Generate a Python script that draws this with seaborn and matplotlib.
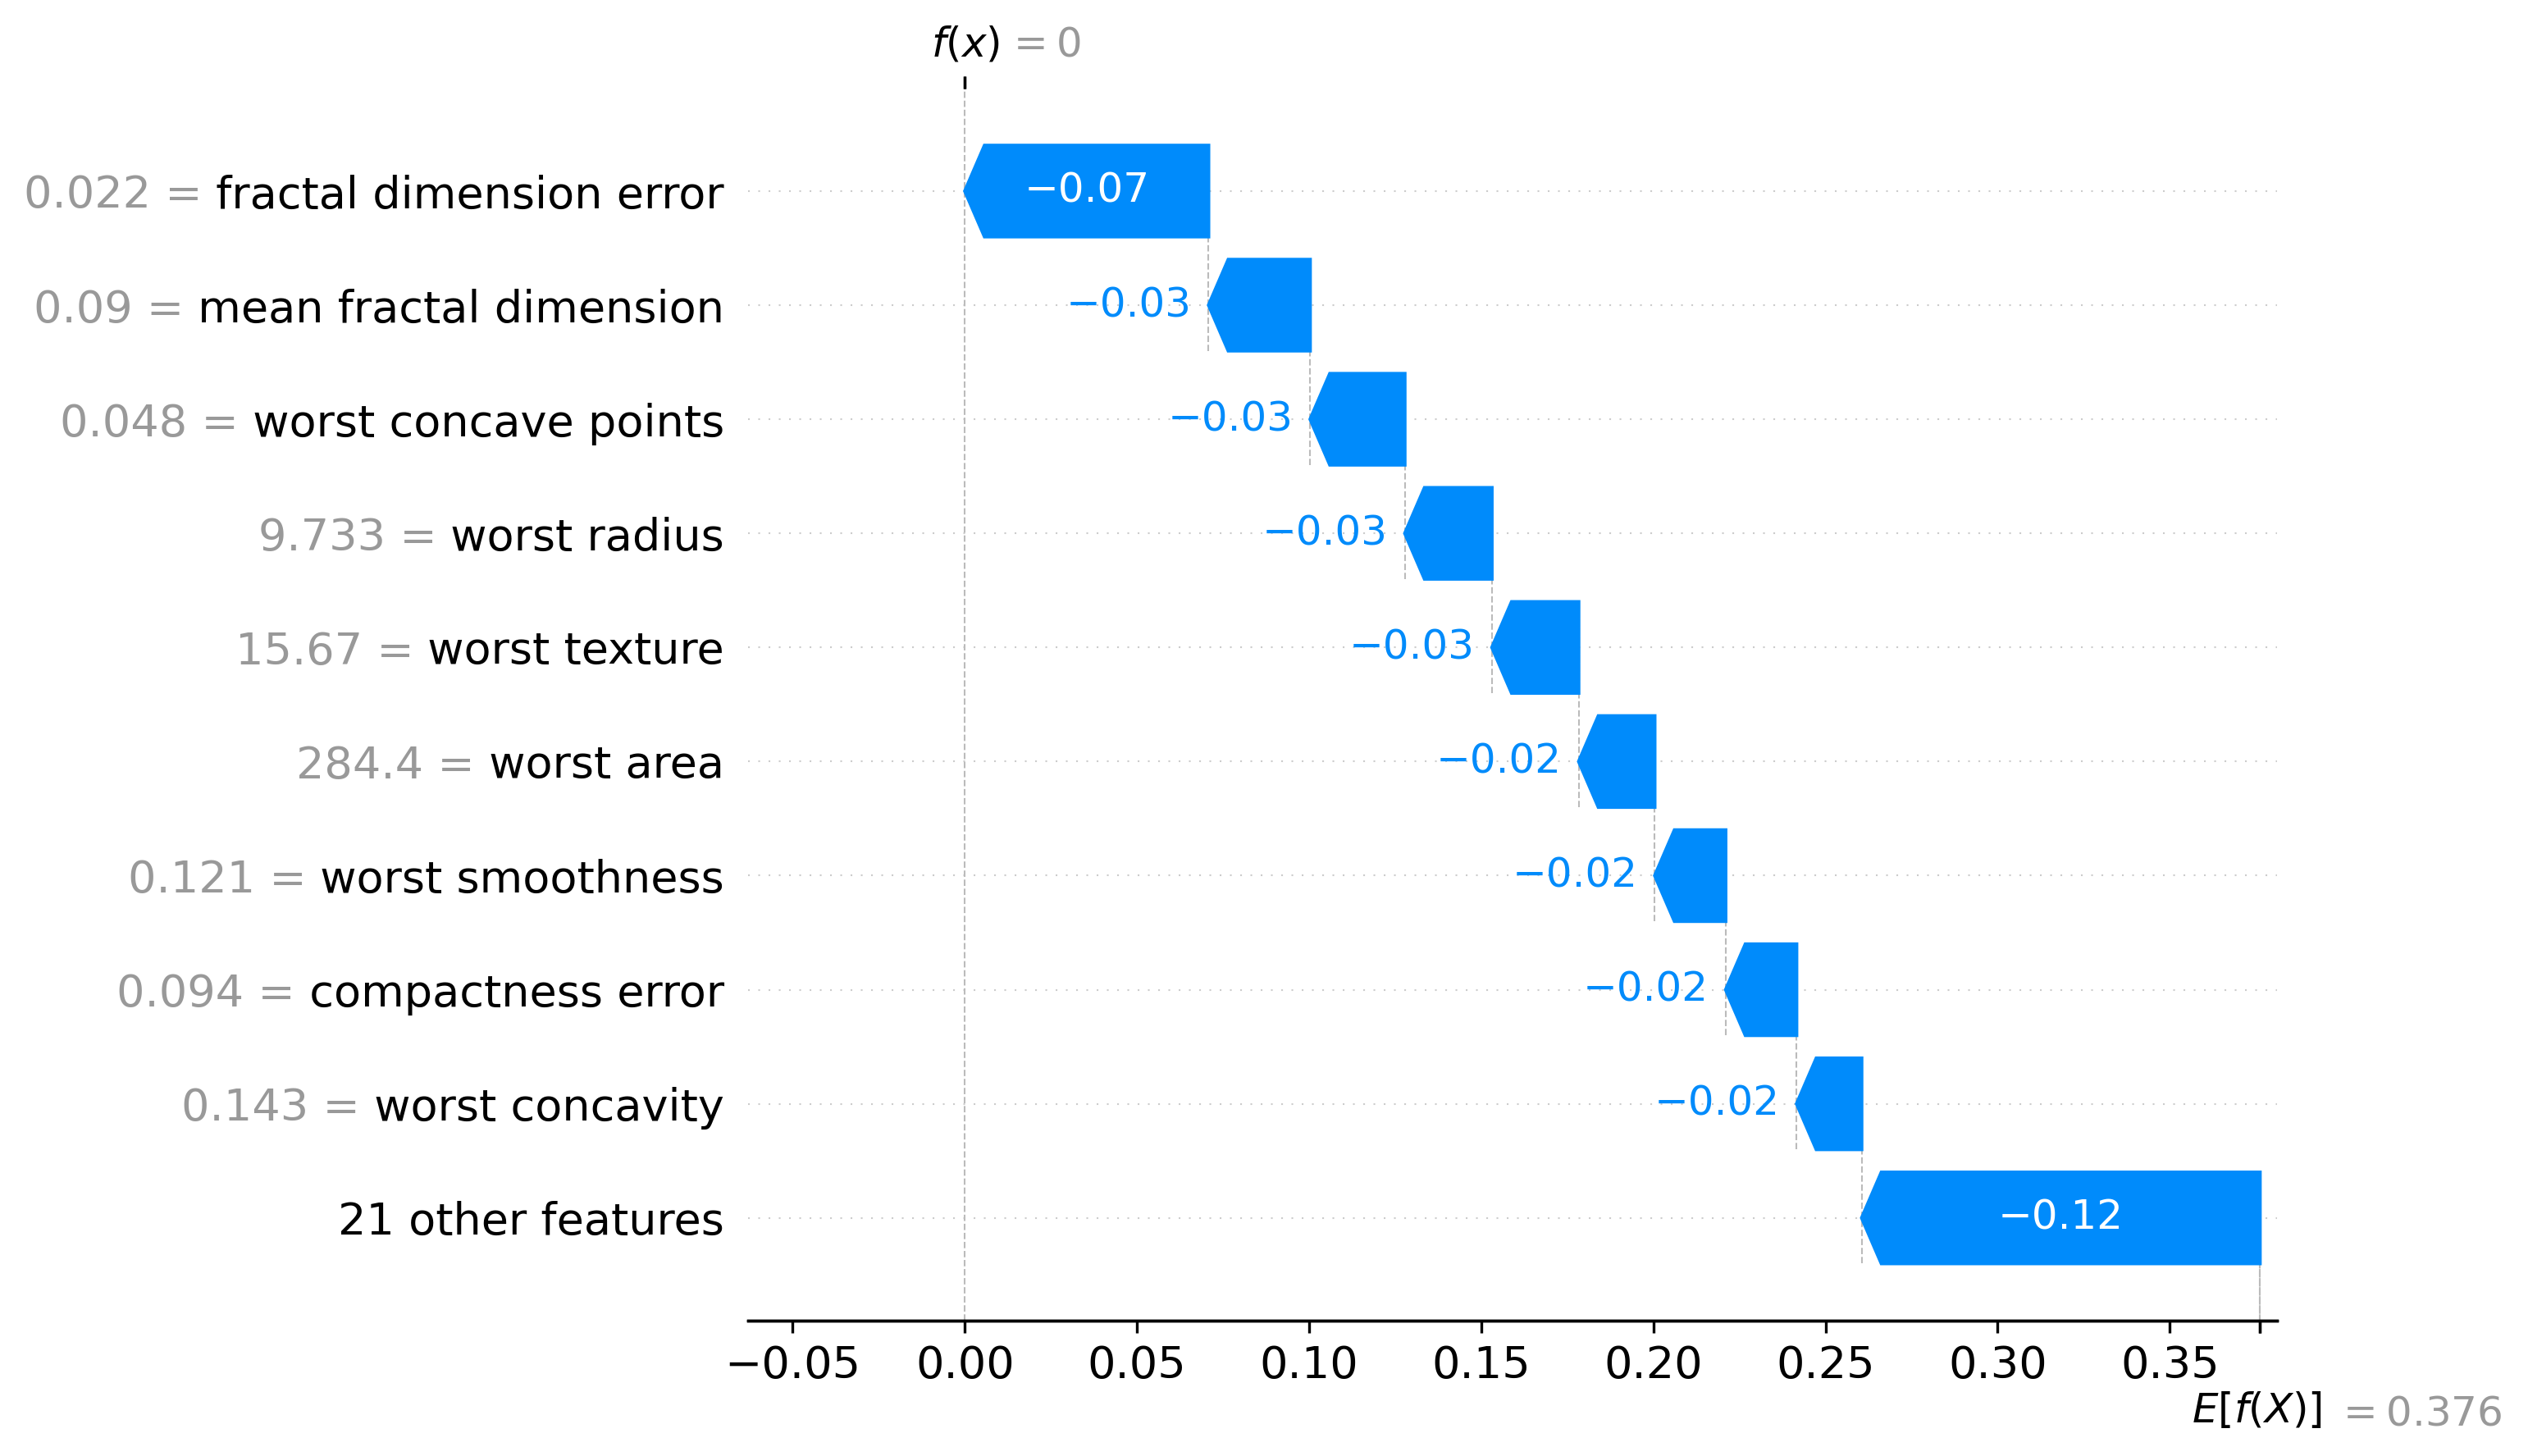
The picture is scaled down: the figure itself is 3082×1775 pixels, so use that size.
import re
import numpy as np
import matplotlib
matplotlib.use("Agg")
import matplotlib.pyplot as plt
import matplotlib.transforms as mtransforms
import seaborn as sns

# waterfall of one prediction: top 9 features + the rest lumped together
feature_names = ['fractal dimension error', 'mean fractal dimension', 'worst concave points',
                 'worst radius', 'worst texture', 'worst area', 'worst smoothness',
                 'compactness error', 'worst concavity', '21 other features']
feature_values = [0.022, 0.09, 0.048, 9.733, 15.67, 284.4, 0.121, 0.094, 0.143, None]
shap_values = [-0.0708, -0.0295, -0.0275, -0.0253, -0.0252, -0.0221, -0.0206, -0.0206, -0.0189, -0.1157]
base_value = 0.3762
x_ticks = [-0.05, 0.0, 0.05, 0.10, 0.15, 0.20, 0.25, 0.30, 0.35]

blue = (0, 0.545, 0.984)
DPI = 300


def format_value(v, fmt):
    s = fmt % v
    s = re.sub(r'\.?0+$', '', s)
    if s[0] == '-':
        s = '\u2212' + s[1:]
    return s


sns.set_style("ticks", rc={"axes.edgecolor": "black", "xtick.color": "black",
                           "ytick.color": "black", "text.color": "black",
                           "axes.labelcolor": "black"})
plt.rcParams['font.family'] = ['DejaVu Sans']

n = len(feature_names)
vals = np.array(shap_values)
fx = round(base_value + vals.sum(), 6) + 0.0

fig = plt.figure(figsize=(3082 / DPI, 1775 / DPI), dpi=DPI)
ax = fig.add_axes([0.2960, 0.0930, 0.6048, 0.8463])
ax.set_xlim(-0.0629, 0.3812)
ax.set_ylim(-0.9, n - 0.1)
ax.set_xticks(x_ticks)

bbox = ax.get_window_extent().transformed(fig.dpi_scale_trans.inverted())
xlen = ax.get_xlim()[1] - ax.get_xlim()[0]
bbox_to_xscale = xlen / bbox.width
hl_scaled = bbox_to_xscale * 0.08
bar_width = 0.8
renderer = fig.canvas.get_renderer()

# bars as arrows, walking down from f(x) back to the base value
loc = fx
for i in range(n):
    y = n - 1 - i
    dist = vals[i]
    loc -= dist
    ax.plot([loc, loc], [y - 1 - 0.4, y + 0.4], color="#bbbbbb", linestyle="--", linewidth=0.5, zorder=-1)
    arrow = ax.arrow(loc, y, -max(-dist - hl_scaled, 1e-6), 0,
                     head_length=min(-dist, hl_scaled), color=blue,
                     width=bar_width, head_width=bar_width)
    label = format_value(dist, '%+0.02f')
    txt = ax.text(loc + 0.5 * dist, y, label, ha='center', va='center', color='white', fontsize=12)
    if txt.get_window_extent(renderer=renderer).width > arrow.get_window_extent(renderer=renderer).width:
        txt.remove()
        ax.text(loc - (5 / 72) * bbox_to_xscale + dist, y, label, ha='right', va='center',
                color=blue, fontsize=12)

# y labels: feature name in black, its value in gray just left of it
name_labels = []
value_labels = []
for name, fv in zip(feature_names, feature_values):
    if fv is None:
        name_labels.append(name)
        value_labels.append(None)
    else:
        name_labels.append(" " + name)
        value_labels.append(format_value(fv, "%0.03f") + " =")
ypos = [n - 1 - i for i in range(n)]
ax.set_yticks(ypos[::-1])
ax.set_yticklabels(name_labels[::-1], fontsize=13)

for i in range(n):
    ax.axhline(i, color="#cccccc", lw=0.5, dashes=(1, 5), zorder=-1)

ax.axvline(base_value, 0, 1 / n, color="#bbbbbb", linestyle="--", linewidth=0.5, zorder=-1)
ax.axvline(fx, 0, 1, color="#bbbbbb", linestyle="--", linewidth=0.5, zorder=-1)

ax.xaxis.set_ticks_position('bottom')
ax.yaxis.set_ticks_position('none')
sns.despine(ax=ax, left=True)
ax.tick_params(labelsize=13)

fig.canvas.draw()
fig_w = fig.bbox.width
trans = mtransforms.blended_transform_factory(fig.transFigure, ax.transData)
for lab in ax.yaxis.get_majorticklabels():
    txt = lab.get_text()
    if txt not in name_labels:
        continue
    i = name_labels.index(txt)
    if value_labels[i] is None:
        continue
    x0 = lab.get_window_extent(renderer=renderer).x0
    fig.text(x0 / fig_w, ypos[i], value_labels[i], transform=trans, ha='right',
             va='center_baseline', color="#999999", fontsize=13)

# E[f(X)] tick at the bottom, one text line below the normal tick labels
xmin, xmax = ax.get_xlim()
ax2 = ax.twiny()
ax2.set_xlim(xmin, xmax)
ax2.xaxis.set_ticks_position('bottom')
ax2.set_xticks([base_value, base_value + 1e-8])
e_labels = ["$E[f(X)]$", "$ = " + format_value(base_value, "%0.03f") + "$"]
ax2.set_xticklabels(["\n" + s for s in e_labels], fontsize=12, ha="left")
fig.canvas.draw()
y_two_lines = ax2.xaxis.get_majorticklabels()[0].get_window_extent(renderer=renderer).y0
ax2.set_xticklabels(e_labels, fontsize=12, ha="left")
fig.canvas.draw()
y_one_line = ax2.xaxis.get_majorticklabels()[0].get_window_extent(renderer=renderer).y0
ax2.tick_params(axis='x', pad=3.5 + (y_one_line - y_two_lines) * 72 / DPI)
sns.despine(ax=ax2, left=True)

# f(x) tick at the top
ax3 = ax2.twiny()
ax3.set_xlim(xmin, xmax)
ax3.xaxis.set_ticks_position('top')
ax3.set_xticks([fx, fx + 1e-8])
ax3.set_xticklabels(["$f(x)$", "$ = " + format_value(fx, "%0.03f") + "$"], fontsize=12, ha="left")
tl = ax3.xaxis.get_majorticklabels()
tl[0].set_transform(tl[0].get_transform() + mtransforms.ScaledTranslation(-10 / 72., 0, fig.dpi_scale_trans))
tl[1].set_transform(tl[1].get_transform() + mtransforms.ScaledTranslation(12 / 72., 0, fig.dpi_scale_trans))
tl[1].set_color("#999999")
sns.despine(ax=ax3, left=True)

tl = ax2.xaxis.get_majorticklabels()
tl[0].set_transform(tl[0].get_transform() + mtransforms.ScaledTranslation(-20 / 72., 0, fig.dpi_scale_trans))
tl[1].set_transform(tl[1].get_transform() + mtransforms.ScaledTranslation(22 / 72., -1 / 72., fig.dpi_scale_trans))
tl[1].set_color("#999999")

fig.savefig('out.png', dpi=DPI)
